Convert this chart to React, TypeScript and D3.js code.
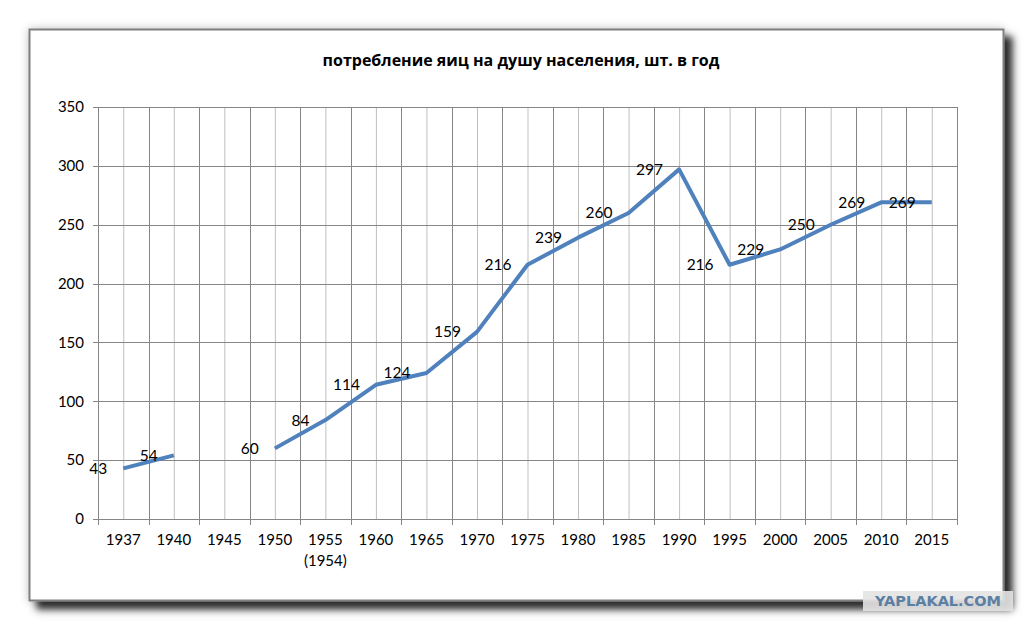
import { useEffect, useRef } from 'react';
import * as d3 from 'd3';

const YEARS = ['1937', '1940', '1945', '1950', '1955', '1960', '1965', '1970', '1975', '1980', '1985', '1990', '1995', '2000', '2005', '2010', '2015'];
const YEAR_NOTES = ['', '', '', '', '(1954)', '', '', '', '', '', '', '', '', '', '', '', ''];
const EGGS: Array<number | null> = [43, 54, null, 60, 84, 114, 124, 159, 216, 239, 260, 297, 216, 229, 250, 269, 269];
const Y_TICKS = [0, 50, 100, 150, 200, 250, 300, 350];
const TITLE = 'потребление яиц на душу населения, шт. в год';

const W = 1033;
const H = 631;
const FONT = 'Lato, "Open Sans", sans-serif';

export default function App() {
  const svgRef = useRef<SVGSVGElement>(null);

  useEffect(() => {
    if (!svgRef.current) return;
    const svg = d3.select(svgRef.current);
    svg.selectAll('*').remove();

    const left = 98;
    const right = 957;
    const top = 107;
    const bottom = 519;

    const x = d3.scaleBand<string>().domain(YEARS).range([left, right]).padding(0);
    const y = d3.scaleLinear().domain([0, 350]).range([bottom, top]);
    const cx = (i: number) => (x(YEARS[i]) ?? 0) + x.bandwidth() / 2;

    const defs = svg.append('defs');
    const f = defs.append('filter').attr('id', 'shadow').attr('x', '-5%').attr('y', '-5%').attr('width', '115%').attr('height', '120%');
    f.append('feDropShadow').attr('dx', 0).attr('dy', 0).attr('stdDeviation', 4).attr('flood-color', '#000').attr('flood-opacity', 0.25);
    f.append('feDropShadow').attr('dx', 8).attr('dy', 8).attr('stdDeviation', 3.5).attr('flood-color', '#000').attr('flood-opacity', 0.8);

    // frame
    svg.append('rect')
      .attr('x', 29.5).attr('y', 29.5).attr('width', 974).attr('height', 571)
      .attr('fill', '#fff').attr('stroke', '#7f7f7f').attr('stroke-width', 2)
      .attr('filter', 'url(#shadow)');

    svg.append('text')
      .attr('x', 521).attr('y', 60).attr('text-anchor', 'middle').attr('dy', '0.35em')
      .attr('fill', '#000').style('font-family', '"Open Sans", sans-serif').style('font-size', '16px').style('font-weight', '700')
      .text(TITLE);

    const g = svg.append('g');

    // minor vertical gridlines (category centres)
    g.selectAll('line.minor')
      .data(YEARS)
      .join('line')
      .attr('class', 'minor')
      .attr('x1', (_, i) => cx(i) + 0.5).attr('x2', (_, i) => cx(i) + 0.5)
      .attr('y1', top).attr('y2', bottom)
      .attr('stroke', '#bfbfbf').attr('stroke-width', 1);

    // major vertical gridlines (category boundaries) + ticks
    const bounds = d3.range(YEARS.length + 1).map((i) => left + i * x.bandwidth());
    g.selectAll('line.major')
      .data(bounds)
      .join('line')
      .attr('class', 'major')
      .attr('x1', (d) => Math.round(d) + 0.5).attr('x2', (d) => Math.round(d) + 0.5)
      .attr('y1', top).attr('y2', bottom + 6)
      .attr('stroke', '#868686').attr('stroke-width', 1);

    // horizontal gridlines + y ticks
    g.selectAll('line.h')
      .data(Y_TICKS)
      .join('line')
      .attr('class', 'h')
      .attr('x1', left - 5).attr('x2', right)
      .attr('y1', (d) => Math.round(y(d)) + 0.5).attr('y2', (d) => Math.round(y(d)) + 0.5)
      .attr('stroke', '#868686').attr('stroke-width', 1);

    g.selectAll('text.ytick')
      .data(Y_TICKS)
      .join('text')
      .attr('class', 'ytick')
      .attr('x', 84).attr('y', (d) => y(d)).attr('dy', '0.35em').attr('text-anchor', 'end')
      .attr('fill', '#000').style('font-family', FONT).style('font-size', '15px')
      .text((d) => d);

    g.selectAll('text.xtick')
      .data(YEARS)
      .join('text')
      .attr('class', 'xtick')
      .attr('x', (_, i) => cx(i)).attr('y', 540).attr('dy', '0.35em').attr('text-anchor', 'middle')
      .attr('fill', '#000').style('font-family', FONT).style('font-size', '15px')
      .text((d) => d);

    g.selectAll('text.xnote')
      .data(YEAR_NOTES)
      .join('text')
      .attr('class', 'xnote')
      .attr('x', (_, i) => cx(i)).attr('y', 561).attr('dy', '0.35em').attr('text-anchor', 'middle')
      .attr('fill', '#000').style('font-family', FONT).style('font-size', '15px')
      .text((d) => d);

    const line = d3.line<number | null>()
      .defined((d) => d != null)
      .x((_, i) => cx(i))
      .y((d) => y(d as number));

    g.append('path')
      .datum(EGGS)
      .attr('d', line)
      .attr('fill', 'none')
      .attr('stroke', '#4f81bd')
      .attr('stroke-width', 4)
      .attr('stroke-linejoin', 'round');

    g.selectAll('text.lbl')
      .data(EGGS.map((v, i) => ({ v, i })).filter((d) => d.v != null))
      .join('text')
      .attr('class', 'lbl')
      .attr('x', (d) => cx(d.i) - 16).attr('y', (d) => y(d.v as number)).attr('dy', '0.35em').attr('text-anchor', 'end')
      .attr('fill', '#000').style('font-family', FONT).style('font-size', '15.5px')
      .text((d) => d.v as number);

    // watermark
    svg.append('rect')
      .attr('x', 863).attr('y', 591).attr('width', 150).attr('height', 20)
      .attr('fill', '#e3e3e3').attr('opacity', 0.9);
    svg.append('text')
      .attr('x', 938).attr('y', 601).attr('dy', '0.36em').attr('text-anchor', 'middle')
      .attr('fill', '#5b7ea3').style('font-family', '"DejaVu Sans", sans-serif').style('font-size', '14.5px').style('font-weight', '700')
      .text('YAPLAKAL.COM');
  }, []);

  return (
    <div style={{ position: 'absolute', left: 0, top: 0, background: '#fff' }}>
      <svg ref={svgRef} width={W} height={H} style={{ display: 'block' }} />
    </div>
  );
}
